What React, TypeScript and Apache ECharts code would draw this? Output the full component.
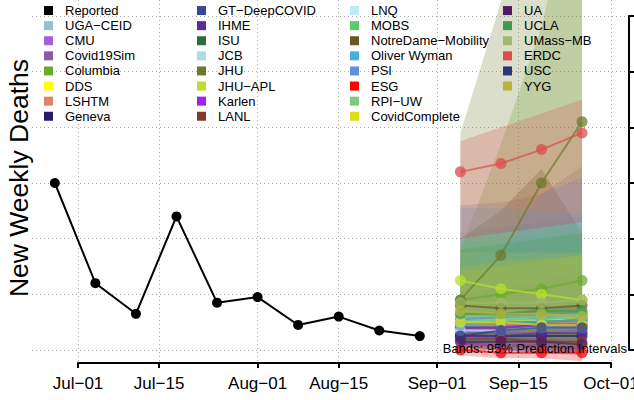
import React, { useEffect, useRef } from "react";
import * as echarts from "echarts";

const FONT = "'Liberation Sans', Arial, Helvetica, sans-serif";

const reportedDates = ["2020-06-27", "2020-07-04", "2020-07-11", "2020-07-18", "2020-07-25", "2020-08-01", "2020-08-08", "2020-08-15", "2020-08-22", "2020-08-29"];
const reportedDeaths = [80, 44, 33, 68, 37, 39, 29, 32, 27, 25];
const forecastDates = ["2020-09-05", "2020-09-12", "2020-09-19", "2020-09-26"];
const xTickDates = ["2020-07-01", "2020-07-15", "2020-08-01", "2020-08-15", "2020-09-01", "2020-09-15", "2020-10-01"];
const yTicks = [20, 40, 60, 80, 100, 120, 140];
const monthNames = ["Jan", "Feb", "Mar", "Apr", "May", "Jun", "Jul", "Aug", "Sep", "Oct", "Nov", "Dec"];

const modelNames = ["UGA\u2212CEID", "CMU", "Covid19Sim", "Columbia", "DDS", "LSHTM", "Geneva", "GT\u2212DeepCOVID", "IHME", "ISU", "JCB", "JHU", "JHU\u2212APL", "Karlen", "LANL", "LNQ", "MOBS", "NotreDame\u2212Mobility", "Oliver Wyman", "PSI", "ESG", "RPI\u2212UW", "CovidComplete", "UA", "UCLA", "UMass\u2212MB", "ERDC", "USC", "YYG"];
const modelColors = ["#96c0ca", "#a45fd9", "#8b5aa6", "#6cab2e", "#ffff00", "#e08468", "#2a1a6b", "#3a459b", "#5a2b99", "#2c6b3a", "#aadcec", "#6e7a2c", "#b8e02c", "#a020f0", "#843a2a", "#bfeaf8", "#5bcc69", "#6c5522", "#4bb0d8", "#5f90e0", "#ff0000", "#80c880", "#dadf1b", "#4f1b68", "#3f9b4d", "#a0b86c", "#dd4b4b", "#2b3578", "#b5b537"];

const medianDeaths = [
  [31, 31, 32, 32], [27, 27, 28, 28], [26, 26, 26, 27], [38, 40, 42, 45], [30, 30, 31, 31],
  [29, 29, 30, 30], [25, 25, 25, 25], [28, 28, 29, 29], [25, 25, 26, 26], [30, 30, 30, 31],
  [30, 31, 31, 32], [38, 54, 80, 102], [45, 42, 40, 38], [28, 28, 29, 29], [24, 24, 23, 23],
  [27, 27, 28, 28], [30, 31, 31, 32], [36, 35, 35, 36], [29, 30, 30, 31], [31, 32, 32, 33],
  [20, 19, 19, 19], [32, 32, 32, 33], [30, 30, 29, 29], [23, 23, 23, 22], [33, 33, 34, 34],
  [37, 37, 37, 38], [84, 87, 92, 98], [25, 27, 28, 28], [34, 33, 33, 32],
];
const lowerDeaths = [
  [24, 22, 21, 20], [21, 20, 19, 18], [22, 21, 20, 20], [27, 28, 28, 29], [23, 22, 21, 20],
  [21, 20, 20, 19], [22, 21, 21, 20], [22, 21, 21, 20], [22, 22, 21, 21], [23, 22, 22, 21],
  [21, 20, 19, 18], [25, 30, 38, 48], [30, 28, 27, 26], [22, 21, 21, 20], [21, 20, 20, 19],
  [21, 20, 20, 19], [23, 23, 22, 22], [25, 24, 23, 23], [22, 22, 21, 21], [22, 21, 21, 20],
  [18, 17, 17, 16], [24, 23, 23, 22], [23, 22, 22, 21], [20, 20, 19, 19], [26, 25, 25, 24],
  [28, 27, 26, 26], [60, 62, 64, 66], [22, 23, 23, 23], [27, 25, 24, 23],
];
const upperDeaths = [
  [62, 64, 66, 68], [72, 73, 76, 86], [33, 35, 37, 39], [56, 94, 136, 200], [50, 52, 54, 55],
  [42, 46, 50, 54], [30, 31, 31, 32], [36, 38, 40, 42], [29, 31, 32, 34], [38, 40, 42, 44],
  [48, 52, 56, 60], [98, 145, 200, 255], [52, 53, 54, 55], [40, 42, 45, 48], [28, 29, 29, 30],
  [36, 38, 40, 42], [58, 60, 62, 64], [60, 70, 85, 62], [71, 71, 70, 69], [52, 56, 76, 82],
  [23, 23, 24, 24], [60, 62, 64, 66], [48, 50, 52, 54], [29, 30, 32, 34], [56, 58, 60, 62],
  [55, 55, 55, 55], [95, 100, 105, 110], [30, 33, 35, 36], [50, 52, 53, 54],
];

const legendColumns = [
  ["Reported", "UGA\u2212CEID", "CMU", "Covid19Sim", "Columbia", "DDS", "LSHTM", "Geneva"],
  ["GT\u2212DeepCOVID", "IHME", "ISU", "JCB", "JHU", "JHU\u2212APL", "Karlen", "LANL"],
  ["LNQ", "MOBS", "NotreDame\u2212Mobility", "Oliver Wyman", "PSI", "ESG", "RPI\u2212UW", "CovidComplete"],
  ["UA", "UCLA", "UMass\u2212MB", "ERDC", "USC", "YYG"],
];

const toTime = (s: string) => Date.parse(s + "T00:00:00Z");
const rgba = (hex: string, a: number) => {
  const n = parseInt(hex.slice(1), 16);
  return `rgba(${(n >> 16) & 255},${(n >> 8) & 255},${n & 255},${a})`;
};

export default function App() {
  const ref = useRef<HTMLDivElement>(null);
  useEffect(() => {
    if (!ref.current) return;
    const chart = echarts.init(ref.current, null, { renderer: "svg" });

    // layout: pixel positions of first/last date tick and gridlines
    const jul1 = toTime(xTickDates[0]);
    const oct1 = toTime(xTickDates[xTickDates.length - 1]);
    const pxPerMs = (611 - 78) / (oct1 - jul1);
    const xMin = jul1 - (78 - 32) / pxPerMs;
    const xMax = oct1 + (634 - 611) / pxPerMs;
    const pxPerUnit = (350 - 16) / (yTicks[yTicks.length - 1] - yTicks[0]);
    const yMin = yTicks[0] - (363 - 350) / pxPerUnit;
    const yMax = yTicks[yTicks.length - 1] + 16 / pxPerUnit;

    const xTicks = xTickDates.map(toTime);
    const fTimes = forecastDates.map(toTime);
    const gridLine = { show: true, lineStyle: { color: "#a8a8a8", width: 1, type: [1, 3] } };

    const lineSeries: any[] = [
      {
        type: "line",
        name: "Reported",
        xAxisIndex: 0,
        yAxisIndex: 0,
        data: reportedDates.map((d, i) => [toTime(d), reportedDeaths[i]]),
        symbol: "circle",
        symbolSize: 10,
        color: "#000000",
        lineStyle: { width: 2, color: "#000000" },
        itemStyle: { color: "#000000" },
        z: 4,
      },
      ...modelNames.map((name, m) => ({
        type: "line",
        name,
        xAxisIndex: 0,
        yAxisIndex: 0,
        data: fTimes.map((t, i) => [t, medianDeaths[m][i]]),
        symbol: "circle",
        symbolSize: 11,
        color: modelColors[m],
        lineStyle: { width: 2, color: modelColors[m], opacity: 0.7 },
        itemStyle: { color: modelColors[m], opacity: 0.75 },
        z: 3,
      })),
    ];

    const bandSeries = modelNames.map((name, m) => ({
      type: "custom",
      name,
      xAxisIndex: 0,
      yAxisIndex: 0,
      clip: true,
      z: 2,
      data: fTimes.map((t, i) => [t, lowerDeaths[m][i], upperDeaths[m][i]]),
      encode: { x: 0, y: [1, 2] },
      renderItem: (params: any, api: any) => {
        if (params.dataIndex !== 0) return null;
        const pts: number[][] = [];
        for (let i = 0; i < fTimes.length; i++) pts.push(api.coord([fTimes[i], upperDeaths[m][i]]));
        for (let i = fTimes.length - 1; i >= 0; i--) pts.push(api.coord([fTimes[i], lowerDeaths[m][i]]));
        return {
          type: "polygon",
          shape: { points: pts },
          style: { fill: rgba(modelColors[m], 0.25), stroke: null },
        };
      },
    }));

    const option: any = {
      animation: false,
      backgroundColor: "#ffffff",
      textStyle: { fontFamily: FONT },
      grid: [
        { left: 32, right: 0, top: 0, bottom: 37, outerBoundsMode: "none", containLabel: false },
        { left: 78, right: 634 - 611, bottom: 37, height: 1, outerBoundsMode: "none", containLabel: false },
        { left: 629, right: 4, top: 16, bottom: 50, outerBoundsMode: "none", containLabel: false },
      ],
      xAxis: [
        {
          gridIndex: 0,
          type: "value",
          min: xMin,
          max: xMax,
          axisLine: { show: false },
          axisTick: { show: true, customValues: xTicks, length: 5, lineStyle: { color: "#000", width: 2 } },
          axisLabel: {
            show: true,
            customValues: xTicks,
            margin: 12,
            fontSize: 17,
            color: "#000",
            fontFamily: FONT,
            formatter: (v: number) => {
              const dt = new Date(v);
              return monthNames[dt.getUTCMonth()] + "\u2212" + String(dt.getUTCDate()).padStart(2, "0");
            },
          },
          splitLine: gridLine,
        },
        {
          gridIndex: 1,
          type: "value",
          min: jul1,
          max: oct1,
          axisLine: { show: true, lineStyle: { color: "#000", width: 2 } },
          axisTick: { show: false },
          axisLabel: { show: false },
          splitLine: { show: false },
        },
        { gridIndex: 2, type: "value", show: false },
      ],
      yAxis: [
        {
          gridIndex: 0,
          type: "value",
          min: yMin,
          max: yMax,
          axisLine: { show: false },
          axisTick: { show: false, customValues: yTicks },
          axisLabel: { show: false },
          splitLine: gridLine,
        },
        { gridIndex: 1, type: "value", show: false },
        {
          gridIndex: 2,
          type: "value",
          position: "right",
          min: yTicks[0],
          max: yTicks[yTicks.length - 1],
          interval: yTicks[1] - yTicks[0],
          axisLine: { show: true, lineStyle: { color: "#000", width: 2 } },
          axisTick: { show: true, length: 6, lineStyle: { color: "#000", width: 2 } },
          axisLabel: { show: false },
          splitLine: { show: false },
        },
      ],
      legend: legendColumns.map((names, c) => ({
        orient: "vertical",
        left: [44, 197, 350, 503][c],
        top: 3,
        padding: 0,
        itemGap: 0,
        itemWidth: 9,
        itemHeight: 9,
        icon: "rect",
        selectedMode: false,
        data: names,
        itemStyle: { opacity: 1 },
        textStyle: { fontFamily: FONT, fontSize: 13, color: "#000", lineHeight: 15.1, padding: [0, 0, 0, 7] },
      })),
      graphic: [
        {
          type: "text",
          x: 19,
          y: 178,
          rotation: Math.PI / 2,
          style: { text: "New Weekly Deaths", fontSize: 26.5, fontFamily: FONT, fill: "#000", align: "center", verticalAlign: "middle" },
        },
        {
          type: "text",
          x: 627,
          y: 348,
          z: 100,
          style: { text: "Bands: 95% Prediction Intervals", fontSize: 13, fontFamily: FONT, fill: "#000", align: "right", verticalAlign: "middle" },
        },
      ],
      series: [...lineSeries, ...bandSeries],
    };
    chart.setOption(option);
    return () => chart.dispose();
  }, []);
  return <div ref={ref} style={{ position: "fixed", left: 0, top: 0, width: 634, height: 400 }} />;
}
